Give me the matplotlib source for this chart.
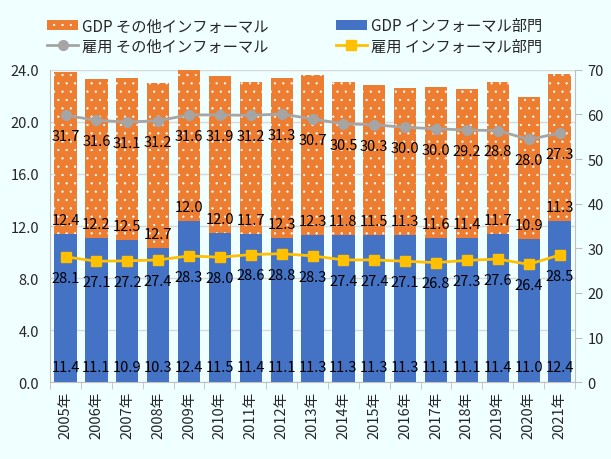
import matplotlib
matplotlib.use("Agg")
import matplotlib.pyplot as plt
import numpy as np

plt.rcParams['font.family'] = ['Noto Sans CJK JP', 'DejaVu Sans']
plt.rcParams['hatch.color'] = 'white'
plt.rcParams['hatch.linewidth'] = 0.4

years = ["2005年", "2006年", "2007年", "2008年", "2009年", "2010年", "2011年", "2012年", "2013年",
         "2014年", "2015年", "2016年", "2017年", "2018年", "2019年", "2020年", "2021年"]
gdp_sector = [11.4, 11.1, 10.9, 10.3, 12.4, 11.5, 11.4, 11.1, 11.3, 11.3, 11.3, 11.3, 11.1, 11.1, 11.4, 11.0, 12.4]
gdp_other = [12.4, 12.2, 12.5, 12.7, 12.0, 12.0, 11.7, 12.3, 12.3, 11.8, 11.5, 11.3, 11.6, 11.4, 11.7, 10.9, 11.3]
emp_sector = [28.1, 27.1, 27.2, 27.4, 28.3, 28.0, 28.6, 28.8, 28.3, 27.4, 27.4, 27.1, 26.8, 27.3, 27.6, 26.4, 28.5]
emp_other = [31.7, 31.6, 31.1, 31.2, 31.6, 31.9, 31.2, 31.3, 30.7, 30.5, 30.3, 30.0, 30.0, 29.2, 28.8, 28.0, 27.3]

BLUE = '#4472C4'
ORANGE = '#ED7D31'
GRAY = '#A5A5A5'
YELLOW = '#FFC000'
BG = '#F0FFFF'
TXT = '#262626'

x = np.arange(len(years))
gs = np.array(gdp_sector)
go = np.array(gdp_other)
es = np.array(emp_sector)
eo = np.array(emp_other)

fig = plt.figure(figsize=(6.11, 4.60), dpi=100, facecolor=BG)
ax = fig.add_axes([0.082, 0.167, 0.859, 0.679])
ax.set_facecolor(BG)

w = 0.72
b1 = ax.bar(x, gs, width=w, color=BLUE, linewidth=0, zorder=2)
b2 = ax.bar(x, go, width=w, bottom=gs, color=ORANGE, linewidth=0, hatch='..', zorder=2)

ax.set_ylim(0, 24)
ax.set_yticks(np.arange(0, 24.1, 4))
ax.set_yticklabels([f"{v:.1f}" for v in np.arange(0, 24.1, 4)])
ax.set_xlim(-0.5, len(years) - 0.5)
ax.yaxis.grid(True, color='#D9D9D9', linewidth=1, zorder=0)
ax.set_axisbelow(True)
ax.set_xticks(x)
ax.set_xticklabels(years, rotation=90)
ax.set_xticks(np.arange(-0.5, len(years), 1), minor=True)
ax.tick_params(axis='x', which='major', length=0, labelsize=10.5, colors=TXT, pad=6)
ax.tick_params(axis='x', which='minor', length=5, color='#BFBFBF')
ax.tick_params(axis='y', length=0, labelsize=10.5, colors=TXT, pad=8)
for s in ['top', 'right']:
    ax.spines[s].set_visible(False)
ax.spines['left'].set_color('#BFBFBF')
ax.spines['bottom'].set_color('#BFBFBF')

ax2 = ax.twinx()
ax2.set_ylim(0, 70)
ax2.set_yticks(np.arange(0, 71, 10))
ax2.tick_params(axis='y', length=5, color='#BFBFBF', labelsize=10.5, colors=TXT, pad=4)
ax2.tick_params(axis='y', which='both', color='#BFBFBF')
for s in ['top', 'left', 'bottom']:
    ax2.spines[s].set_visible(False)
ax2.spines['right'].set_color('#BFBFBF')

l2, = ax2.plot(x, es + eo, color=GRAY, linewidth=2, marker='o', markersize=7, zorder=3)
l1, = ax2.plot(x, es, color=YELLOW, linewidth=2, marker='s', markersize=7, zorder=3)

fs = 10.5
for i in range(len(x)):
    ax.annotate(f"{gs[i]:.1f}", (x[i], 0), xytext=(0, 11), textcoords='offset points',
                ha='center', va='center', fontsize=fs, color='black')
    ax.annotate(f"{go[i]:.1f}", (x[i], gs[i]), xytext=(0, 10), textcoords='offset points',
                ha='center', va='center', fontsize=fs, color='black')
    ax2.annotate(f"{es[i]:.1f}", (x[i], es[i]), xytext=(0, -15), textcoords='offset points',
                 ha='center', va='center', fontsize=fs, color='black')
    ax2.annotate(f"{eo[i]:.1f}", (x[i], es[i] + eo[i]), xytext=(0, -15), textcoords='offset points',
                 ha='center', va='center', fontsize=fs, color='black')

leg = fig.legend([b2, l2, b1, l1],
                 ["GDP その他インフォーマル", "雇用 その他インフォーマル",
                  "GDP インフォーマル部門", "雇用 インフォーマル部門"],
                 ncol=2, loc='upper left', bbox_to_anchor=(0.055, 0.99), frameon=False,
                 fontsize=11, columnspacing=4.4, handlelength=2.0, handletextpad=0.3,
                 labelspacing=0.2, handleheight=0.6)
for t in leg.get_texts():
    t.set_color(TXT)

fig.savefig("out.png", dpi=100, facecolor=BG)
